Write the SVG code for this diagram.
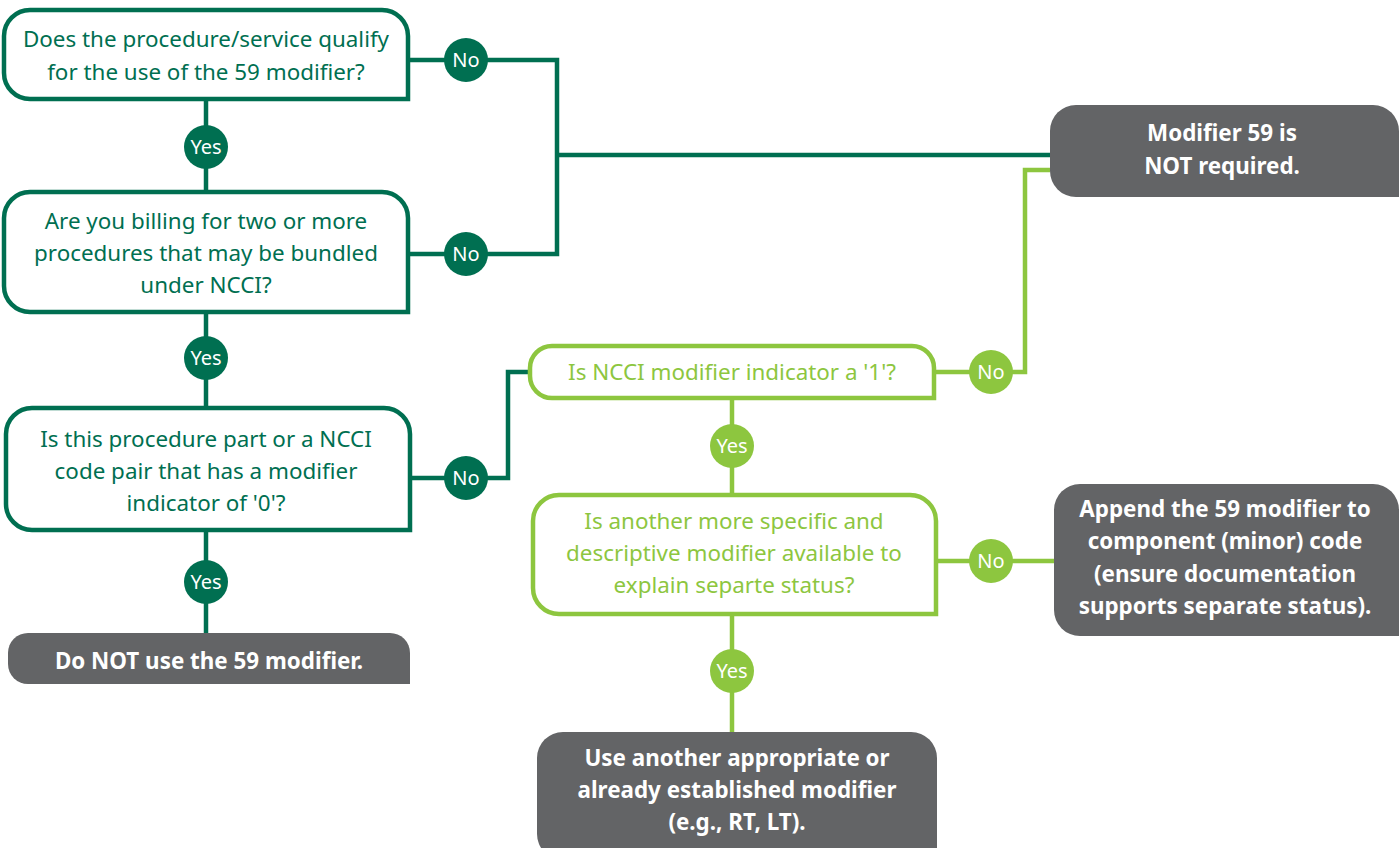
<svg xmlns="http://www.w3.org/2000/svg" width="1399" height="848" viewBox="0 0 1399 848">
<style>
.dk{fill:#fff;stroke:#006f51;stroke-width:4.5}
.lt{fill:#fff;stroke:#8dc63f;stroke-width:4.5}
.gr{fill:#636466}
.ldk{fill:none;stroke:#006f51;stroke-width:4.5}
.llt{fill:none;stroke:#8dc63f;stroke-width:4.5}
.cdk{fill:#006f51}
.clt{fill:#8dc63f}
text{font-family:"Noto Sans","Open Sans",sans-serif;text-anchor:middle}
.tdk{fill:#006f51;font-size:22.4px}
.tlt{fill:#8dc63f;font-size:22.4px}
.tw{fill:#fff;font-size:22.4px;font-weight:bold}
.tc{fill:#fff;font-size:20px}
</style>
<g id="connectors">
<path class="ldk" d="M206,99 V192"/>
<path class="ldk" d="M206,312 V408"/>
<path class="ldk" d="M206,530 V633"/>
<path class="ldk" d="M408,60 H557 V254 H408"/>
<path class="ldk" d="M557,155 H1050"/>
<path class="ldk" d="M410,478 H508 V372 H530"/>
<path class="llt" d="M934,372 H1025 V170 H1050"/>
<path class="llt" d="M732,398 V495"/>
<path class="llt" d="M936,561 H1054"/>
<path class="llt" d="M732,614 V732"/>
<circle class="cdk" cx="206" cy="147" r="22"/><text class="tc" x="206" y="154">Yes</text>
<circle class="cdk" cx="206" cy="358" r="22"/><text class="tc" x="206" y="365">Yes</text>
<circle class="cdk" cx="206" cy="582" r="22"/><text class="tc" x="206" y="589">Yes</text>
<circle class="cdk" cx="466" cy="60" r="22"/><text class="tc" x="466" y="67">No</text>
<circle class="cdk" cx="466" cy="254" r="22"/><text class="tc" x="466" y="261">No</text>
<circle class="cdk" cx="466" cy="478" r="22"/><text class="tc" x="466" y="485">No</text>
<circle class="clt" cx="991" cy="372" r="22"/><text class="tc" x="991" y="379">No</text>
<circle class="clt" cx="991" cy="561" r="22"/><text class="tc" x="991" y="568">No</text>
<circle class="clt" cx="732" cy="446" r="22"/><text class="tc" x="732" y="453">Yes</text>
<circle class="clt" cx="732" cy="671" r="22"/><text class="tc" x="732" y="678">Yes</text>
</g>
<g id="q1">
<path class="dk" d="M30,10 H382 A26,26 0 0 1 408,36 V99 H30 A26,26 0 0 1 4,73 V36 A26,26 0 0 1 30,10 Z"/>
<text class="tdk" x="206" y="47">Does the procedure/service qualify</text>
<text class="tdk" x="206" y="80">for the use of the 59 modifier?</text>
</g>
<g id="q2">
<path class="dk" d="M30,192 H382 A26,26 0 0 1 408,218 V312 H30 A26,26 0 0 1 4,286 V218 A26,26 0 0 1 30,192 Z"/>
<text class="tdk" x="206" y="229">Are you billing for two or more</text>
<text class="tdk" x="206" y="261">procedures that may be bundled</text>
<text class="tdk" x="206" y="293">under NCCI?</text>
</g>
<g id="q3">
<path class="dk" d="M32,408 H384 A26,26 0 0 1 410,434 V530 H32 A26,26 0 0 1 6,504 V434 A26,26 0 0 1 32,408 Z"/>
<text class="tdk" x="206" y="447">Is this procedure part or a NCCI</text>
<text class="tdk" x="206" y="479">code pair that has a modifier</text>
<text class="tdk" x="206" y="511">indicator of '0'?</text>
</g>
<g id="r-donot">
<path class="gr" d="M28,633 H390 A20,20 0 0 1 410,653 V684 H28 A20,20 0 0 1 8,664 V653 A20,20 0 0 1 28,633 Z"/>
<text class="tw" x="209" y="669">Do NOT use the 59 modifier.</text>
</g>
<g id="r-notreq">
<path class="gr" d="M1076,105 H1373 A26,26 0 0 1 1399,131 V197 H1076 A26,26 0 0 1 1050,171 V131 A26,26 0 0 1 1076,105 Z"/>
<text class="tw" x="1222" y="141">Modifier 59 is</text>
<text class="tw" x="1222" y="174">NOT required.</text>
</g>
<g id="q4">
<path class="lt" d="M552,346 H912 A22,22 0 0 1 934,368 V398 H552 A22,22 0 0 1 530,376 V368 A22,22 0 0 1 552,346 Z"/>
<text class="tlt" x="732" y="380">Is NCCI modifier indicator a '1'?</text>
</g>
<g id="q5">
<path class="lt" d="M559,495 H910 A26,26 0 0 1 936,521 V614 H559 A26,26 0 0 1 533,588 V521 A26,26 0 0 1 559,495 Z"/>
<text class="tlt" x="734" y="529">Is another more specific and</text>
<text class="tlt" x="734" y="561">descriptive modifier available to</text>
<text class="tlt" x="734" y="593">explain separte status?</text>
</g>
<g id="r-append">
<path class="gr" d="M1080,484 H1373 A26,26 0 0 1 1399,510 V636 H1080 A26,26 0 0 1 1054,610 V510 A26,26 0 0 1 1080,484 Z"/>
<text class="tw" x="1225" y="517">Append the 59 modifier to</text>
<text class="tw" x="1225" y="549">component (minor) code</text>
<text class="tw" x="1225" y="582">(ensure documentation</text>
<text class="tw" x="1225" y="614">supports separate status).</text>
</g>
<g id="r-use">
<path class="gr" d="M563,732 H911 A26,26 0 0 1 937,758 V860 H563 A26,26 0 0 1 537,834 V758 A26,26 0 0 1 563,732 Z"/>
<text class="tw" x="737" y="766">Use another appropriate or</text>
<text class="tw" x="737" y="798">already established modifier</text>
<text class="tw" x="737" y="830">(e.g., RT, LT).</text>
</g>
</svg>
